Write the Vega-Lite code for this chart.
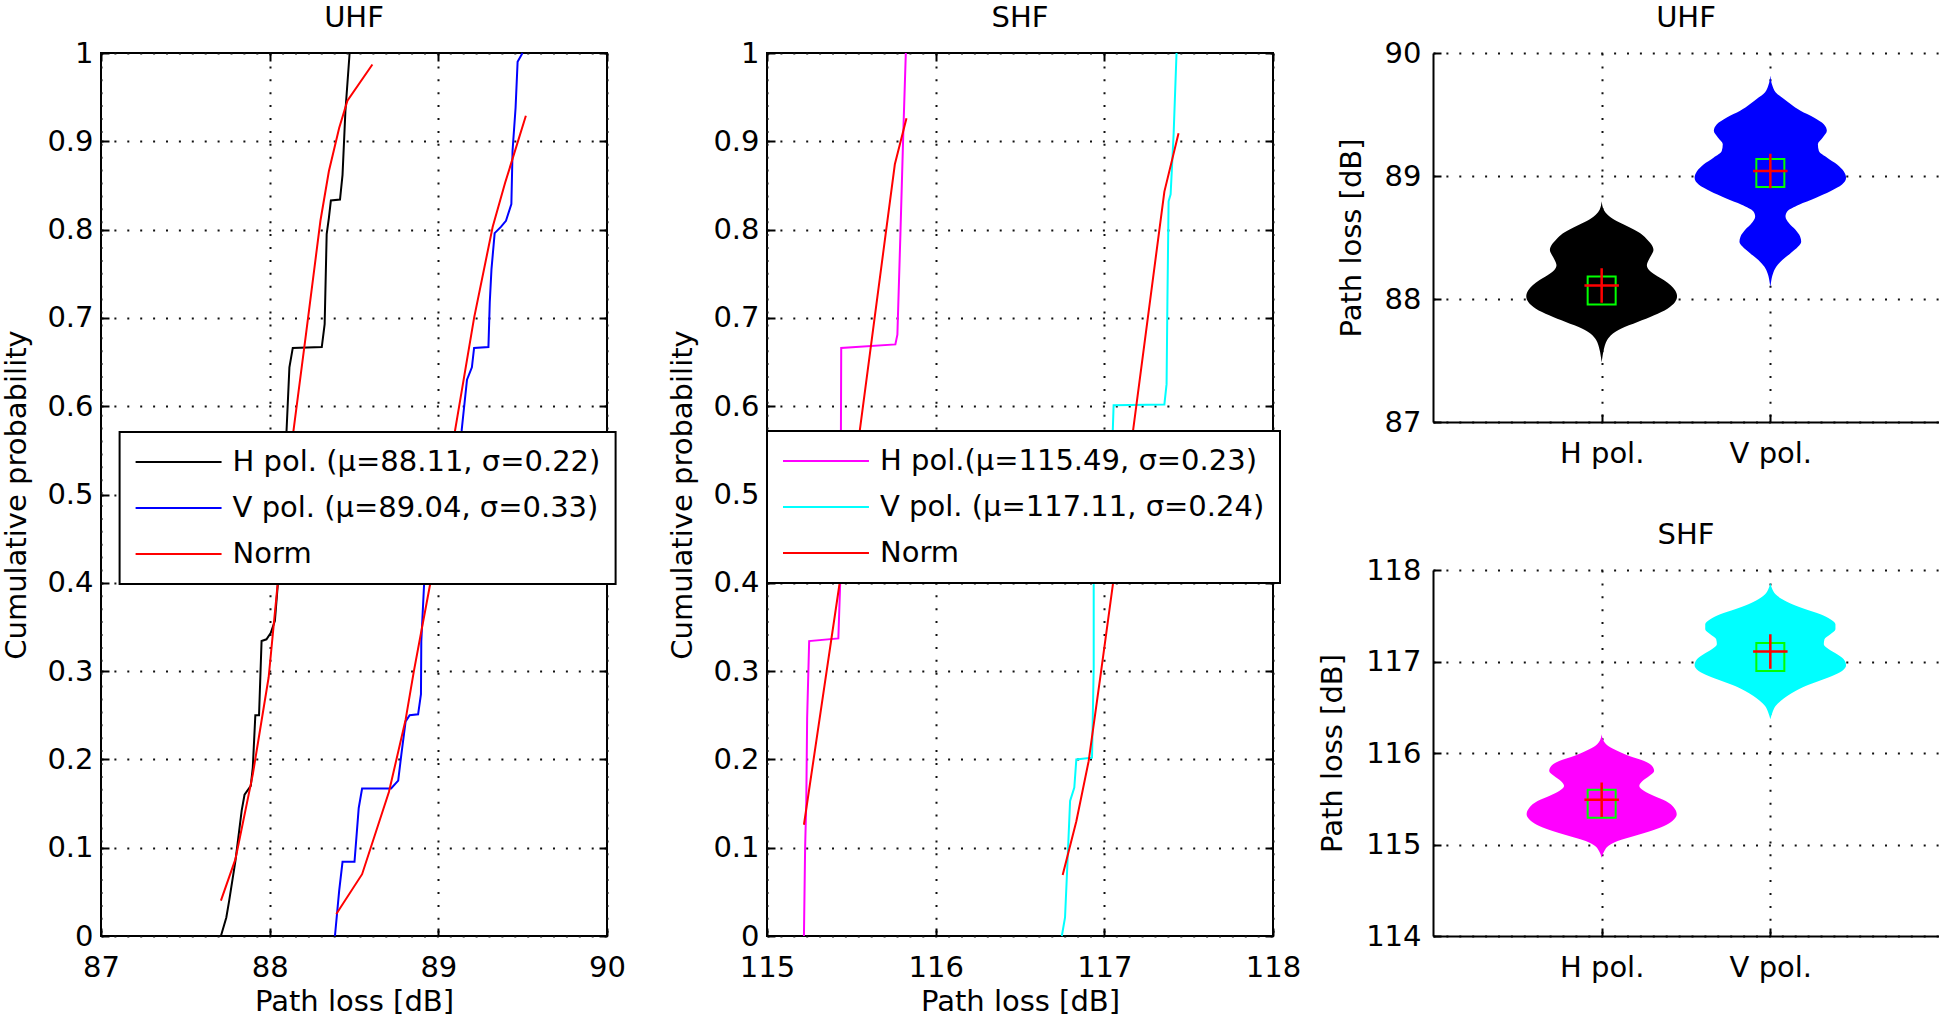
{
  "$schema": "https://vega.github.io/schema/vega-lite/v6.json",
  "background": "white",
  "padding": {"left": 1, "top": 3, "right": 0, "bottom": 0},
  "bounds": "flush",
  "spacing": 160,
  "resolve": {"scale": {"color": "independent"}, "legend": {"color": "independent"}},
  "config": {
    "view": {"stroke": null},
    "font": "DejaVu Sans",
    "axis": {
      "labelFont": "DejaVu Sans", "labelFontSize": 29, "labelColor": "black", "labelFontWeight": "normal",
      "titleFont": "DejaVu Sans", "titleFontSize": 29, "titleFontWeight": "normal", "titleColor": "black",
      "tickSize": -8, "tickWidth": 2, "tickColor": "black",
      "domain": false,
      "grid": true, "gridColor": "#111111", "gridWidth": 2, "gridDash": [2, 10.9],
      "labelFlush": false, "labelOverlap": false, "labelBound": false
    },
    "axisX": {"labelPadding": 25.5, "titlePadding": 4.5},
    "axisY": {"labelPadding": 16, "titlePadding": 15, "titleAngle": 270, "titleBaseline": "bottom"},
    "title": {"font": "DejaVu Sans", "fontSize": 29, "fontWeight": "normal", "color": "black", "offset": 6, "baseline": "alphabetic", "anchor": "middle", "frame": "group"}
  },
  "datasets": {
    "uhf_cdf": [
      {"s":"H","c":"H","i":0,"x":87.711,"p":0},
      {"s":"H","c":"H","i":1,"x":87.743,"p":0.021},
      {"s":"H","c":"H","i":2,"x":87.760,"p":0.040},
      {"s":"H","c":"H","i":3,"x":87.797,"p":0.085},
      {"s":"H","c":"H","i":4,"x":87.834,"p":0.142},
      {"s":"H","c":"H","i":5,"x":87.851,"p":0.160},
      {"s":"H","c":"H","i":6,"x":87.888,"p":0.170},
      {"s":"H","c":"H","i":7,"x":87.900,"p":0.191},
      {"s":"H","c":"H","i":8,"x":87.915,"p":0.250},
      {"s":"H","c":"H","i":9,"x":87.937,"p":0.250},
      {"s":"H","c":"H","i":10,"x":87.952,"p":0.334},
      {"s":"H","c":"H","i":11,"x":87.981,"p":0.336},
      {"s":"H","c":"H","i":12,"x":88.006,"p":0.343},
      {"s":"H","c":"H","i":13,"x":88.031,"p":0.357},
      {"s":"H","c":"H","i":14,"x":88.070,"p":0.450},
      {"s":"H","c":"H","i":15,"x":88.100,"p":0.572},
      {"s":"H","c":"H","i":16,"x":88.117,"p":0.644},
      {"s":"H","c":"H","i":17,"x":88.137,"p":0.666},
      {"s":"H","c":"H","i":18,"x":88.309,"p":0.667},
      {"s":"H","c":"H","i":19,"x":88.326,"p":0.693},
      {"s":"H","c":"H","i":20,"x":88.338,"p":0.795},
      {"s":"H","c":"H","i":21,"x":88.351,"p":0.813},
      {"s":"H","c":"H","i":22,"x":88.363,"p":0.833},
      {"s":"H","c":"H","i":23,"x":88.417,"p":0.834},
      {"s":"H","c":"H","i":24,"x":88.432,"p":0.862},
      {"s":"H","c":"H","i":25,"x":88.449,"p":0.934},
      {"s":"H","c":"H","i":26,"x":88.474,"p":1.0},
      {"s":"V","c":"V","i":0,"x":88.387,"p":0},
      {"s":"V","c":"V","i":1,"x":88.412,"p":0.051},
      {"s":"V","c":"V","i":2,"x":88.432,"p":0.084},
      {"s":"V","c":"V","i":3,"x":88.503,"p":0.084},
      {"s":"V","c":"V","i":4,"x":88.528,"p":0.145},
      {"s":"V","c":"V","i":5,"x":88.548,"p":0.167},
      {"s":"V","c":"V","i":6,"x":88.720,"p":0.167},
      {"s":"V","c":"V","i":7,"x":88.762,"p":0.176},
      {"s":"V","c":"V","i":8,"x":88.781,"p":0.206},
      {"s":"V","c":"V","i":9,"x":88.806,"p":0.243},
      {"s":"V","c":"V","i":10,"x":88.830,"p":0.250},
      {"s":"V","c":"V","i":11,"x":88.880,"p":0.251},
      {"s":"V","c":"V","i":12,"x":88.897,"p":0.274},
      {"s":"V","c":"V","i":13,"x":88.899,"p":0.334},
      {"s":"V","c":"V","i":14,"x":88.916,"p":0.400},
      {"s":"V","c":"V","i":15,"x":89.050,"p":0.500},
      {"s":"V","c":"V","i":16,"x":89.138,"p":0.572},
      {"s":"V","c":"V","i":17,"x":89.150,"p":0.594},
      {"s":"V","c":"V","i":18,"x":89.170,"p":0.630},
      {"s":"V","c":"V","i":19,"x":89.199,"p":0.644},
      {"s":"V","c":"V","i":20,"x":89.212,"p":0.666},
      {"s":"V","c":"V","i":21,"x":89.297,"p":0.667},
      {"s":"V","c":"V","i":22,"x":89.305,"p":0.718},
      {"s":"V","c":"V","i":23,"x":89.315,"p":0.755},
      {"s":"V","c":"V","i":24,"x":89.334,"p":0.796},
      {"s":"V","c":"V","i":25,"x":89.371,"p":0.803},
      {"s":"V","c":"V","i":26,"x":89.401,"p":0.810},
      {"s":"V","c":"V","i":27,"x":89.433,"p":0.829},
      {"s":"V","c":"V","i":28,"x":89.440,"p":0.889},
      {"s":"V","c":"V","i":29,"x":89.458,"p":0.938},
      {"s":"V","c":"V","i":30,"x":89.470,"p":0.990},
      {"s":"V","c":"V","i":31,"x":89.499,"p":1.0},
      {"s":"Norm","c":"HN","i":0,"x":87.711,"p":0.040},
      {"s":"Norm","c":"HN","i":1,"x":87.797,"p":0.087},
      {"s":"Norm","c":"HN","i":2,"x":87.900,"p":0.183},
      {"s":"Norm","c":"HN","i":3,"x":87.994,"p":0.293},
      {"s":"Norm","c":"HN","i":4,"x":88.048,"p":0.400},
      {"s":"Norm","c":"HN","i":5,"x":88.141,"p":0.572},
      {"s":"Norm","c":"HN","i":6,"x":88.215,"p":0.681},
      {"s":"Norm","c":"HN","i":7,"x":88.301,"p":0.810},
      {"s":"Norm","c":"HN","i":8,"x":88.351,"p":0.866},
      {"s":"Norm","c":"HN","i":9,"x":88.412,"p":0.915},
      {"s":"Norm","c":"HN","i":10,"x":88.461,"p":0.946},
      {"s":"Norm","c":"HN","i":11,"x":88.609,"p":0.987},
      {"s":"Norm","c":"VN","i":0,"x":88.395,"p":0.025},
      {"s":"Norm","c":"VN","i":1,"x":88.548,"p":0.070},
      {"s":"Norm","c":"VN","i":2,"x":88.707,"p":0.163},
      {"s":"Norm","c":"VN","i":3,"x":88.806,"p":0.245},
      {"s":"Norm","c":"VN","i":4,"x":88.855,"p":0.300},
      {"s":"Norm","c":"VN","i":5,"x":88.953,"p":0.400},
      {"s":"Norm","c":"VN","i":6,"x":89.096,"p":0.569},
      {"s":"Norm","c":"VN","i":7,"x":89.212,"p":0.700},
      {"s":"Norm","c":"VN","i":8,"x":89.322,"p":0.803},
      {"s":"Norm","c":"VN","i":9,"x":89.396,"p":0.853},
      {"s":"Norm","c":"VN","i":10,"x":89.519,"p":0.929}
    ],
    "shf_cdf": [
      {"s":"H","c":"H","i":0,"x":115.219,"p":0},
      {"s":"H","c":"H","i":1,"x":115.226,"p":0.100},
      {"s":"H","c":"H","i":2,"x":115.233,"p":0.153},
      {"s":"H","c":"H","i":3,"x":115.238,"p":0.247},
      {"s":"H","c":"H","i":4,"x":115.250,"p":0.334},
      {"s":"H","c":"H","i":5,"x":115.423,"p":0.337},
      {"s":"H","c":"H","i":6,"x":115.434,"p":0.400},
      {"s":"H","c":"H","i":7,"x":115.437,"p":0.500},
      {"s":"H","c":"H","i":8,"x":115.440,"p":0.666},
      {"s":"H","c":"H","i":9,"x":115.761,"p":0.670},
      {"s":"H","c":"H","i":10,"x":115.773,"p":0.681},
      {"s":"H","c":"H","i":11,"x":115.791,"p":0.795},
      {"s":"H","c":"H","i":12,"x":115.808,"p":0.909},
      {"s":"H","c":"H","i":13,"x":115.823,"p":1.0},
      {"s":"V","c":"V","i":0,"x":116.748,"p":0},
      {"s":"V","c":"V","i":1,"x":116.767,"p":0.021},
      {"s":"V","c":"V","i":2,"x":116.780,"p":0.077},
      {"s":"V","c":"V","i":3,"x":116.797,"p":0.153},
      {"s":"V","c":"V","i":4,"x":116.822,"p":0.168},
      {"s":"V","c":"V","i":5,"x":116.834,"p":0.200},
      {"s":"V","c":"V","i":6,"x":116.927,"p":0.202},
      {"s":"V","c":"V","i":7,"x":116.937,"p":0.304},
      {"s":"V","c":"V","i":8,"x":116.937,"p":0.400},
      {"s":"V","c":"V","i":9,"x":116.950,"p":0.402},
      {"s":"V","c":"V","i":10,"x":117.050,"p":0.500},
      {"s":"V","c":"V","i":11,"x":117.050,"p":0.572},
      {"s":"V","c":"V","i":12,"x":117.055,"p":0.601},
      {"s":"V","c":"V","i":13,"x":117.356,"p":0.602},
      {"s":"V","c":"V","i":14,"x":117.369,"p":0.625},
      {"s":"V","c":"V","i":15,"x":117.374,"p":0.719},
      {"s":"V","c":"V","i":16,"x":117.381,"p":0.832},
      {"s":"V","c":"V","i":17,"x":117.393,"p":0.840},
      {"s":"V","c":"V","i":18,"x":117.411,"p":0.909},
      {"s":"V","c":"V","i":19,"x":117.428,"p":1.0},
      {"s":"Norm","c":"HN","i":0,"x":115.219,"p":0.126},
      {"s":"Norm","c":"HN","i":1,"x":115.434,"p":0.404},
      {"s":"Norm","c":"HN","i":2,"x":115.758,"p":0.874},
      {"s":"Norm","c":"HN","i":3,"x":115.827,"p":0.926},
      {"s":"Norm","c":"VN","i":0,"x":116.753,"p":0.069},
      {"s":"Norm","c":"VN","i":1,"x":116.834,"p":0.130},
      {"s":"Norm","c":"VN","i":2,"x":116.907,"p":0.198},
      {"s":"Norm","c":"VN","i":3,"x":116.981,"p":0.300},
      {"s":"Norm","c":"VN","i":4,"x":117.052,"p":0.400},
      {"s":"Norm","c":"VN","i":5,"x":117.356,"p":0.843},
      {"s":"Norm","c":"VN","i":6,"x":117.440,"p":0.909}
    ],
    "vio_uhf": [
      {"pol":"H pol.","loss":88.794,"lo":1.000,"hi":1.000},
      {"pol":"H pol.","loss":88.726,"lo":0.988,"hi":1.012},
      {"pol":"H pol.","loss":88.685,"lo":0.965,"hi":1.035},
      {"pol":"H pol.","loss":88.644,"lo":0.925,"hi":1.075},
      {"pol":"H pol.","loss":88.603,"lo":0.866,"hi":1.134},
      {"pol":"H pol.","loss":88.562,"lo":0.807,"hi":1.193},
      {"pol":"H pol.","loss":88.521,"lo":0.758,"hi":1.242},
      {"pol":"H pol.","loss":88.480,"lo":0.728,"hi":1.272},
      {"pol":"H pol.","loss":88.439,"lo":0.703,"hi":1.297},
      {"pol":"H pol.","loss":88.398,"lo":0.693,"hi":1.307},
      {"pol":"H pol.","loss":88.357,"lo":0.705,"hi":1.295},
      {"pol":"H pol.","loss":88.316,"lo":0.722,"hi":1.278},
      {"pol":"H pol.","loss":88.275,"lo":0.732,"hi":1.268},
      {"pol":"H pol.","loss":88.234,"lo":0.718,"hi":1.282},
      {"pol":"H pol.","loss":88.193,"lo":0.679,"hi":1.321},
      {"pol":"H pol.","loss":88.153,"lo":0.630,"hi":1.370},
      {"pol":"H pol.","loss":88.112,"lo":0.591,"hi":1.409},
      {"pol":"H pol.","loss":88.071,"lo":0.565,"hi":1.435},
      {"pol":"H pol.","loss":88.022,"lo":0.553,"hi":1.447},
      {"pol":"H pol.","loss":87.975,"lo":0.565,"hi":1.435},
      {"pol":"H pol.","loss":87.921,"lo":0.610,"hi":1.390},
      {"pol":"H pol.","loss":87.867,"lo":0.689,"hi":1.311},
      {"pol":"H pol.","loss":87.812,"lo":0.787,"hi":1.213},
      {"pol":"H pol.","loss":87.758,"lo":0.886,"hi":1.114},
      {"pol":"H pol.","loss":87.717,"lo":0.935,"hi":1.065},
      {"pol":"H pol.","loss":87.662,"lo":0.969,"hi":1.031},
      {"pol":"H pol.","loss":87.607,"lo":0.984,"hi":1.016},
      {"pol":"H pol.","loss":87.525,"lo":0.996,"hi":1.004},
      {"pol":"H pol.","loss":87.484,"lo":1.000,"hi":1.000},
      {"pol":"V pol.","loss":89.817,"lo":2.000,"hi":2.000},
      {"pol":"V pol.","loss":89.735,"lo":1.988,"hi":2.012},
      {"pol":"V pol.","loss":89.681,"lo":1.969,"hi":2.031},
      {"pol":"V pol.","loss":89.626,"lo":1.919,"hi":2.081},
      {"pol":"V pol.","loss":89.585,"lo":1.880,"hi":2.120},
      {"pol":"V pol.","loss":89.530,"lo":1.821,"hi":2.179},
      {"pol":"V pol.","loss":89.476,"lo":1.742,"hi":2.258},
      {"pol":"V pol.","loss":89.421,"lo":1.683,"hi":2.317},
      {"pol":"V pol.","loss":89.367,"lo":1.665,"hi":2.335},
      {"pol":"V pol.","loss":89.313,"lo":1.689,"hi":2.311},
      {"pol":"V pol.","loss":89.258,"lo":1.718,"hi":2.282},
      {"pol":"V pol.","loss":89.203,"lo":1.712,"hi":2.288},
      {"pol":"V pol.","loss":89.149,"lo":1.663,"hi":2.337},
      {"pol":"V pol.","loss":89.094,"lo":1.604,"hi":2.396},
      {"pol":"V pol.","loss":89.039,"lo":1.565,"hi":2.435},
      {"pol":"V pol.","loss":88.985,"lo":1.551,"hi":2.449},
      {"pol":"V pol.","loss":88.930,"lo":1.575,"hi":2.425},
      {"pol":"V pol.","loss":88.876,"lo":1.644,"hi":2.356},
      {"pol":"V pol.","loss":88.822,"lo":1.732,"hi":2.268},
      {"pol":"V pol.","loss":88.767,"lo":1.830,"hi":2.170},
      {"pol":"V pol.","loss":88.712,"lo":1.900,"hi":2.100},
      {"pol":"V pol.","loss":88.671,"lo":1.910,"hi":2.090},
      {"pol":"V pol.","loss":88.617,"lo":1.890,"hi":2.110},
      {"pol":"V pol.","loss":88.562,"lo":1.851,"hi":2.149},
      {"pol":"V pol.","loss":88.507,"lo":1.823,"hi":2.177},
      {"pol":"V pol.","loss":88.466,"lo":1.817,"hi":2.183},
      {"pol":"V pol.","loss":88.426,"lo":1.835,"hi":2.165},
      {"pol":"V pol.","loss":88.372,"lo":1.880,"hi":2.120},
      {"pol":"V pol.","loss":88.317,"lo":1.929,"hi":2.071},
      {"pol":"V pol.","loss":88.262,"lo":1.965,"hi":2.035},
      {"pol":"V pol.","loss":88.208,"lo":1.984,"hi":2.016},
      {"pol":"V pol.","loss":88.126,"lo":1.997,"hi":2.003},
      {"pol":"V pol.","loss":88.098,"lo":2.000,"hi":2.000}
    ],
    "vio_shf": [
      {"pol":"H pol.","loss":116.204,"lo":1.000,"hi":1.000},
      {"pol":"H pol.","loss":116.131,"lo":0.988,"hi":1.012},
      {"pol":"H pol.","loss":116.077,"lo":0.961,"hi":1.039},
      {"pol":"H pol.","loss":116.022,"lo":0.905,"hi":1.095},
      {"pol":"H pol.","loss":115.967,"lo":0.836,"hi":1.164},
      {"pol":"H pol.","loss":115.913,"lo":0.748,"hi":1.252},
      {"pol":"H pol.","loss":115.858,"lo":0.701,"hi":1.299},
      {"pol":"H pol.","loss":115.803,"lo":0.689,"hi":1.311},
      {"pol":"H pol.","loss":115.749,"lo":0.718,"hi":1.282},
      {"pol":"H pol.","loss":115.694,"lo":0.758,"hi":1.242},
      {"pol":"H pol.","loss":115.639,"lo":0.777,"hi":1.223},
      {"pol":"H pol.","loss":115.585,"lo":0.748,"hi":1.252},
      {"pol":"H pol.","loss":115.530,"lo":0.689,"hi":1.311},
      {"pol":"H pol.","loss":115.475,"lo":0.620,"hi":1.380},
      {"pol":"H pol.","loss":115.402,"lo":0.571,"hi":1.429},
      {"pol":"H pol.","loss":115.330,"lo":0.555,"hi":1.445},
      {"pol":"H pol.","loss":115.257,"lo":0.581,"hi":1.419},
      {"pol":"H pol.","loss":115.202,"lo":0.630,"hi":1.370},
      {"pol":"H pol.","loss":115.148,"lo":0.709,"hi":1.291},
      {"pol":"H pol.","loss":115.093,"lo":0.807,"hi":1.193},
      {"pol":"H pol.","loss":115.038,"lo":0.905,"hi":1.095},
      {"pol":"H pol.","loss":114.984,"lo":0.961,"hi":1.039},
      {"pol":"H pol.","loss":114.929,"lo":0.984,"hi":1.016},
      {"pol":"H pol.","loss":114.856,"lo":1.000,"hi":1.000},
      {"pol":"V pol.","loss":117.861,"lo":2.000,"hi":2.000},
      {"pol":"V pol.","loss":117.789,"lo":1.988,"hi":2.012},
      {"pol":"V pol.","loss":117.734,"lo":1.969,"hi":2.031},
      {"pol":"V pol.","loss":117.680,"lo":1.929,"hi":2.071},
      {"pol":"V pol.","loss":117.625,"lo":1.870,"hi":2.130},
      {"pol":"V pol.","loss":117.570,"lo":1.791,"hi":2.209},
      {"pol":"V pol.","loss":117.516,"lo":1.703,"hi":2.297},
      {"pol":"V pol.","loss":117.461,"lo":1.644,"hi":2.356},
      {"pol":"V pol.","loss":117.407,"lo":1.614,"hi":2.386},
      {"pol":"V pol.","loss":117.352,"lo":1.614,"hi":2.386},
      {"pol":"V pol.","loss":117.297,"lo":1.644,"hi":2.356},
      {"pol":"V pol.","loss":117.243,"lo":1.679,"hi":2.321},
      {"pol":"V pol.","loss":117.188,"lo":1.683,"hi":2.317},
      {"pol":"V pol.","loss":117.133,"lo":1.653,"hi":2.347},
      {"pol":"V pol.","loss":117.079,"lo":1.604,"hi":2.396},
      {"pol":"V pol.","loss":117.024,"lo":1.565,"hi":2.435},
      {"pol":"V pol.","loss":116.958,"lo":1.551,"hi":2.449},
      {"pol":"V pol.","loss":116.896,"lo":1.575,"hi":2.425},
      {"pol":"V pol.","loss":116.842,"lo":1.634,"hi":2.366},
      {"pol":"V pol.","loss":116.787,"lo":1.712,"hi":2.288},
      {"pol":"V pol.","loss":116.732,"lo":1.791,"hi":2.209},
      {"pol":"V pol.","loss":116.678,"lo":1.851,"hi":2.149},
      {"pol":"V pol.","loss":116.623,"lo":1.900,"hi":2.100},
      {"pol":"V pol.","loss":116.568,"lo":1.939,"hi":2.061},
      {"pol":"V pol.","loss":116.514,"lo":1.969,"hi":2.031},
      {"pol":"V pol.","loss":116.440,"lo":1.988,"hi":2.012},
      {"pol":"V pol.","loss":116.368,"lo":2.000,"hi":2.000}
    ],
    "mk_uhf": [
      {"pol":"H pol.","k":1,"mean":88.11,"median":88.07},
      {"pol":"V pol.","k":2,"mean":89.04,"median":89.025}
    ],
    "mk_shf": [
      {"pol":"H pol.","k":1,"mean":115.49,"median":115.445},
      {"pol":"V pol.","k":2,"mean":117.11,"median":117.05}
    ]
  },
  "hconcat": [
    {
      "width": 506, "height": 883,
      "title": {"text": "UHF"},
      "view": {"stroke": "black", "strokeWidth": 2},
      "data": {"name": "uhf_cdf"},
      "layer": [
        {
          "mark": {"type": "line", "strokeWidth": 2},
          "encoding": {
            "x": {"field": "x", "type": "quantitative", "scale": {"domain": [87, 90], "nice": false, "zero": false}, "axis": {"values": [87, 88, 89, 90], "format": "d", "title": "Path loss [dB]"}},
            "y": {"field": "p", "type": "quantitative", "scale": {"domain": [0, 1], "nice": false, "zero": false}, "axis": {"values": [0, 0.1, 0.2, 0.3, 0.4, 0.5, 0.6, 0.7, 0.8, 0.9, 1], "format": "~g", "title": "Cumulative probability"}},
            "color": {"field": "s", "type": "nominal", "scale": {"domain": ["H", "V", "Norm"], "range": ["#000000", "#0000ff", "#ff0000"]},
              "legend": {"title": null, "orient": "none", "legendX": 18.6, "legendY": 379, "direction": "vertical",
                "labelExpr": "datum.value == 'H' ? 'H pol. (μ=88.11, σ=0.22)' : datum.value == 'V' ? 'V pol. (μ=89.04, σ=0.33)' : 'Norm'",
                "symbolType": "M-1,0H5.14", "symbolSize": 784, "symbolStrokeWidth": 2,
                "labelFont": "DejaVu Sans", "labelFontSize": 29, "labelColor": "black", "labelLimit": 800, "labelOffset": 68,
                "fillColor": "white", "strokeColor": "black", "padding": 15, "rowPadding": 16, "cornerRadius": 0,
                "encode": {"legend": {"update": {"strokeWidth": {"value": 2}}}}}},
            "detail": {"field": "c", "type": "nominal"},
            "order": {"field": "i", "type": "quantitative"}
          }
        },
        {
          "mark": {"type": "point", "opacity": 0},
          "encoding": {
            "x": {"field": "x", "type": "quantitative", "scale": {"domain": [87, 90], "nice": false, "zero": false}, "axis": {"orient": "top", "values": [87, 88, 89, 90], "labels": false, "grid": false, "title": null}},
            "y": {"field": "p", "type": "quantitative", "scale": {"domain": [0, 1], "nice": false, "zero": false}, "axis": {"orient": "right", "values": [0, 0.1, 0.2, 0.3, 0.4, 0.5, 0.6, 0.7, 0.8, 0.9, 1], "labels": false, "grid": false, "title": null}}
          }
        }
      ],
      "resolve": {"axis": {"x": "independent", "y": "independent"}}
    },
    {
      "width": 506, "height": 883,
      "title": {"text": "SHF"},
      "view": {"stroke": "black", "strokeWidth": 2},
      "data": {"name": "shf_cdf"},
      "layer": [
        {
          "mark": {"type": "line", "strokeWidth": 2},
          "encoding": {
            "x": {"field": "x", "type": "quantitative", "scale": {"domain": [115, 118], "nice": false, "zero": false}, "axis": {"values": [115, 116, 117, 118], "format": "d", "title": "Path loss [dB]"}},
            "y": {"field": "p", "type": "quantitative", "scale": {"domain": [0, 1], "nice": false, "zero": false}, "axis": {"values": [0, 0.1, 0.2, 0.3, 0.4, 0.5, 0.6, 0.7, 0.8, 0.9, 1], "format": "~g", "title": "Cumulative probability"}},
            "color": {"field": "s", "type": "nominal", "scale": {"domain": ["H", "V", "Norm"], "range": ["#ff00ff", "#00ffff", "#ff0000"]},
              "legend": {"title": null, "orient": "none", "legendX": 0, "legendY": 378, "direction": "vertical",
                "labelExpr": "datum.value == 'H' ? 'H pol.(μ=115.49, σ=0.23)' : datum.value == 'V' ? 'V pol. (μ=117.11, σ=0.24)' : 'Norm'",
                "symbolType": "M-1,0H5.14", "symbolSize": 784, "symbolStrokeWidth": 2,
                "labelFont": "DejaVu Sans", "labelFontSize": 29, "labelColor": "black", "labelLimit": 800, "labelOffset": 68,
                "fillColor": "white", "strokeColor": "black", "padding": 15, "rowPadding": 16, "cornerRadius": 0,
                "encode": {"legend": {"update": {"strokeWidth": {"value": 2}}}}}},
            "detail": {"field": "c", "type": "nominal"},
            "order": {"field": "i", "type": "quantitative"}
          }
        },
        {
          "mark": {"type": "point", "opacity": 0},
          "encoding": {
            "x": {"field": "x", "type": "quantitative", "scale": {"domain": [115, 118], "nice": false, "zero": false}, "axis": {"orient": "top", "values": [115, 116, 117, 118], "labels": false, "grid": false, "title": null}},
            "y": {"field": "p", "type": "quantitative", "scale": {"domain": [0, 1], "nice": false, "zero": false}, "axis": {"orient": "right", "values": [0, 0.1, 0.2, 0.3, 0.4, 0.5, 0.6, 0.7, 0.8, 0.9, 1], "labels": false, "grid": false, "title": null}}
          }
        }
      ],
      "resolve": {"axis": {"x": "independent", "y": "independent"}}
    },
    {
      "bounds": "flush",
      "spacing": 148,
      "resolve": {"scale": {"color": "independent"}, "legend": {"color": "independent"}},
      "vconcat": [
        {
          "width": 506, "height": 369,
          "title": {"text": "UHF"},
          "layer": [
            {
              "data": {"name": "vio_uhf"},
              "mark": {"type": "area", "orient": "horizontal", "interpolate": "monotone", "opacity": 1},
              "encoding": {
                "y": {"field": "loss", "type": "quantitative", "scale": {"domain": [87, 90], "nice": false, "zero": false}, "axis": {"values": [87, 88, 89, 90], "format": "d", "title": "Path loss [dB]", "domain": true, "domainColor": "black", "domainWidth": 2, "labelPadding": 20, "titlePadding": 18}},
                "x": {"field": "lo", "type": "quantitative", "scale": {"domain": [0, 3], "nice": false, "zero": false}, "axis": {"values": [1, 2], "labelExpr": "datum.value == 1 ? 'H pol.' : 'V pol.'", "title": null, "domain": true, "domainColor": "black", "domainWidth": 2}},
                "x2": {"field": "hi"},
                "color": {"field": "pol", "type": "nominal", "scale": {"domain": ["H pol.", "V pol."], "range": ["#000000", "#0000ff"]}, "legend": null}
              }
            },
            {
              "data": {"name": "mk_uhf"},
              "mark": {"type": "point", "shape": "M-1,-1H1V1H-1Z", "size": 784, "filled": false, "stroke": "#00ff00", "strokeWidth": 2, "opacity": 1},
              "encoding": {
                "x": {"field": "k", "type": "quantitative", "scale": {"domain": [0, 3], "nice": false, "zero": false}, "axis": {"values": [1, 2], "labelExpr": "datum.value == 1 ? 'H pol.' : 'V pol.'", "title": null, "domain": true, "domainColor": "black", "domainWidth": 2}},
                "y": {"field": "median", "type": "quantitative", "scale": {"domain": [87, 90], "nice": false, "zero": false}, "axis": {"values": [87, 88, 89, 90], "format": "d", "title": "Path loss [dB]", "domain": true, "domainColor": "black", "domainWidth": 2, "labelPadding": 20, "titlePadding": 18}}
              }
            },
            {
              "data": {"name": "mk_uhf"},
              "mark": {"type": "point", "shape": "M-1,0H1M0,-1V1", "size": 1190, "filled": false, "stroke": "#ff0000", "strokeWidth": 2.5, "opacity": 1},
              "encoding": {
                "x": {"field": "k", "type": "quantitative", "scale": {"domain": [0, 3], "nice": false, "zero": false}, "axis": {"values": [1, 2], "labelExpr": "datum.value == 1 ? 'H pol.' : 'V pol.'", "title": null, "domain": true, "domainColor": "black", "domainWidth": 2}},
                "y": {"field": "mean", "type": "quantitative", "scale": {"domain": [87, 90], "nice": false, "zero": false}, "axis": {"values": [87, 88, 89, 90], "format": "d", "title": "Path loss [dB]", "domain": true, "domainColor": "black", "domainWidth": 2, "labelPadding": 20, "titlePadding": 18}}
              }
            }
          ]
        },
        {
          "width": 506, "height": 366,
          "title": {"text": "SHF"},
          "layer": [
            {
              "data": {"name": "vio_shf"},
              "mark": {"type": "area", "orient": "horizontal", "interpolate": "monotone", "opacity": 1},
              "encoding": {
                "y": {"field": "loss", "type": "quantitative", "scale": {"domain": [114, 118], "nice": false, "zero": false}, "axis": {"values": [114, 115, 116, 117, 118], "format": "d", "title": "Path loss [dB]", "domain": true, "domainColor": "black", "domainWidth": 2, "labelPadding": 20, "titlePadding": 18}},
                "x": {"field": "lo", "type": "quantitative", "scale": {"domain": [0, 3], "nice": false, "zero": false}, "axis": {"values": [1, 2], "labelExpr": "datum.value == 1 ? 'H pol.' : 'V pol.'", "title": null, "domain": true, "domainColor": "black", "domainWidth": 2}},
                "x2": {"field": "hi"},
                "color": {"field": "pol", "type": "nominal", "scale": {"domain": ["H pol.", "V pol."], "range": ["#ff00ff", "#00ffff"]}, "legend": null}
              }
            },
            {
              "data": {"name": "mk_shf"},
              "mark": {"type": "point", "shape": "M-1,-1H1V1H-1Z", "size": 784, "filled": false, "stroke": "#00ff00", "strokeWidth": 2, "opacity": 1},
              "encoding": {
                "x": {"field": "k", "type": "quantitative", "scale": {"domain": [0, 3], "nice": false, "zero": false}, "axis": {"values": [1, 2], "labelExpr": "datum.value == 1 ? 'H pol.' : 'V pol.'", "title": null, "domain": true, "domainColor": "black", "domainWidth": 2}},
                "y": {"field": "median", "type": "quantitative", "scale": {"domain": [114, 118], "nice": false, "zero": false}, "axis": {"values": [114, 115, 116, 117, 118], "format": "d", "title": "Path loss [dB]", "domain": true, "domainColor": "black", "domainWidth": 2, "labelPadding": 20, "titlePadding": 18}}
              }
            },
            {
              "data": {"name": "mk_shf"},
              "mark": {"type": "point", "shape": "M-1,0H1M0,-1V1", "size": 1190, "filled": false, "stroke": "#ff0000", "strokeWidth": 2.5, "opacity": 1},
              "encoding": {
                "x": {"field": "k", "type": "quantitative", "scale": {"domain": [0, 3], "nice": false, "zero": false}, "axis": {"values": [1, 2], "labelExpr": "datum.value == 1 ? 'H pol.' : 'V pol.'", "title": null, "domain": true, "domainColor": "black", "domainWidth": 2}},
                "y": {"field": "mean", "type": "quantitative", "scale": {"domain": [114, 118], "nice": false, "zero": false}, "axis": {"values": [114, 115, 116, 117, 118], "format": "d", "title": "Path loss [dB]", "domain": true, "domainColor": "black", "domainWidth": 2, "labelPadding": 20, "titlePadding": 18}}
              }
            }
          ]
        }
      ]
    }
  ]
}
